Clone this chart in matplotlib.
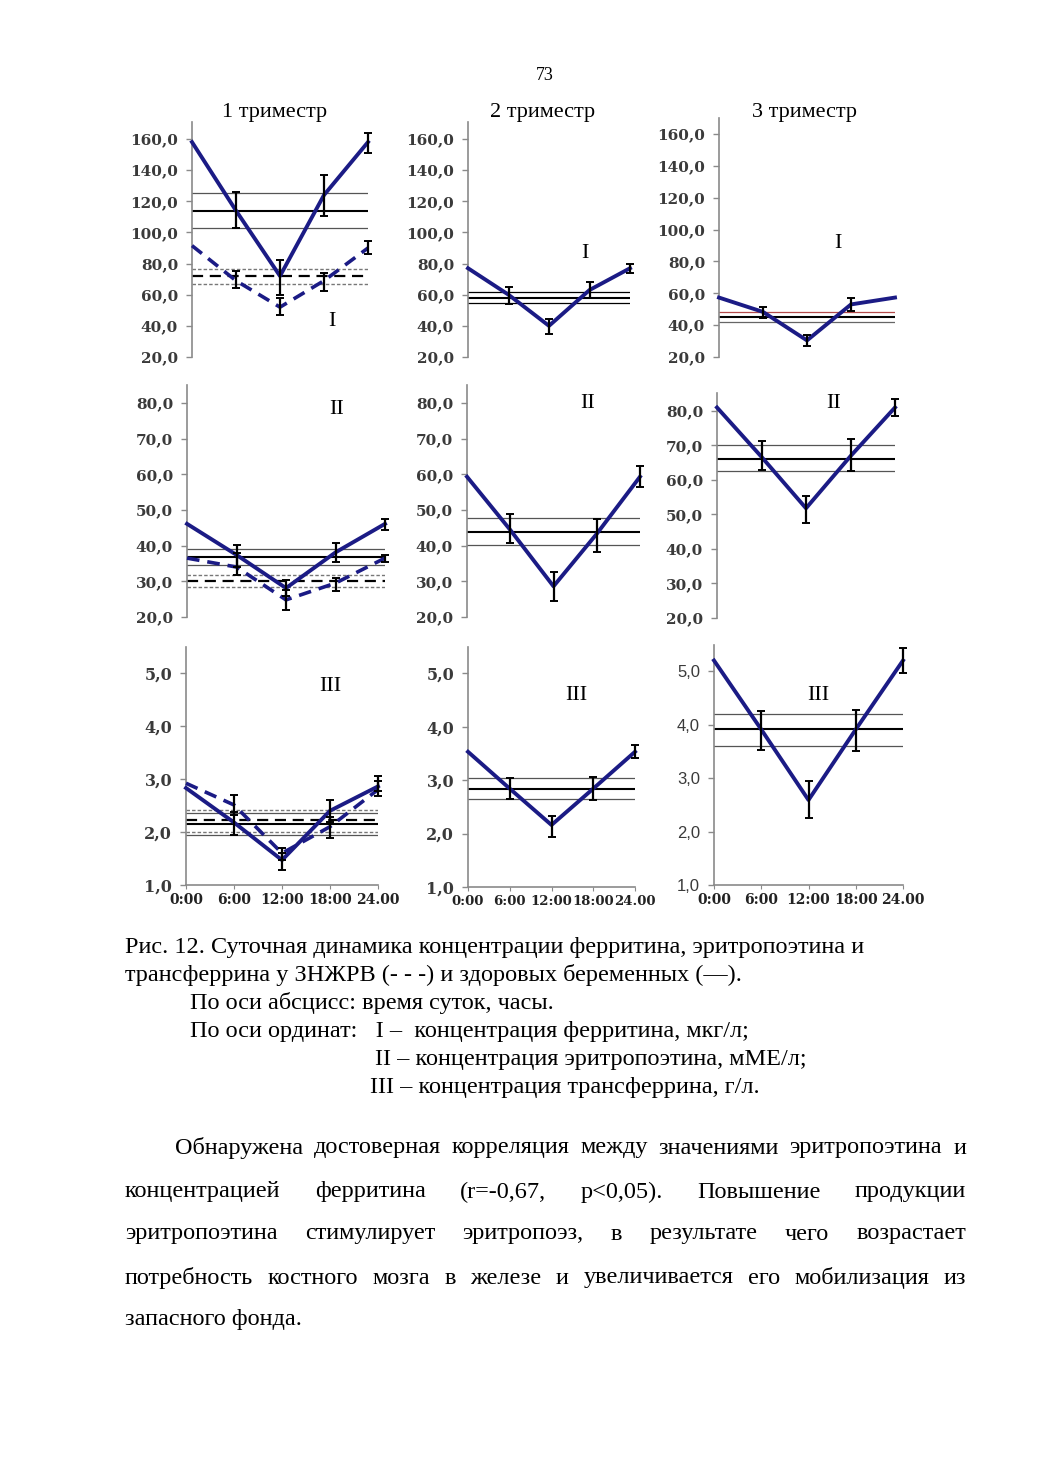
import numpy as np
import matplotlib
matplotlib.use('Agg')
import matplotlib.pyplot as plt

## Page size in pixels (figure is saved at 100 dpi)
W, H = 1040, 1471
nan = np.nan

hours = [0, 6, 12, 18, 24]
hour_labels = ['0:00', '6:00', '12:00', '18:00', '24.00']

## I - ferritin, mcg/l
ferr_t1 = [158, 114, 72, 124, 158]
ferr_t1_lo = [nan, 102.7, 60, 110.6, 151]
ferr_t1_hi = [nan, 126, 82, 137, 163.6]
ferr_t1_band = [103, 114, 125]
ferr_t1_d = [91.5, 69, 52, 69, 90]
ferr_t1_d_lo = [nan, 64, 47, 62.7, 86.2]
ferr_t1_d_hi = [nan, 75, 58, 73.7, 94.6]
ferr_t1_d_band = [66.6, 71.7, 76.8]

ferr_t2 = [77, 60, 40, 63, 77]
ferr_t2_lo = [nan, 54, 35, 57.6, 74]
ferr_t2_hi = [nan, 65, 44.7, 68.3, 79.7]
ferr_t2_band = [54.4, 58.2, 62]

ferr_t3 = [57.3, 48.3, 30.4, 53, 57.3]
ferr_t3_lo = [nan, 44.3, 26.7, 48.7, nan]
ferr_t3_hi = [nan, 51.5, 33.5, 57.2, nan]
ferr_t3_band = [42, 45.1, 48.3]

## II - erythropoietin, mIU/ml
epo_t1 = [46.1, 37.4, 28.1, 38.1, 46.1]
epo_t1_lo = [nan, 34.1, 25.8, 35.3, 44.4]
epo_t1_hi = [nan, 40.2, 30.4, 40.7, 47.4]
epo_t1_band = [34.6, 36.8, 39]
epo_t1_d = [36.5, 34, 24.8, 29.5, 36.5]
epo_t1_d_lo = [nan, 31.8, 22, 27.2, 35.3]
epo_t1_d_hi = [nan, 37.9, 27.6, 30.9, 37.4]
epo_t1_d_band = [28.5, 30.0, 31.9]

epo_t2 = [59.3, 44.4, 28.6, 43.3, 59.3]
epo_t2_lo = [nan, 40.7, 24.6, 38.3, 56.3]
epo_t2_hi = [nan, 48.9, 32.5, 47.4, 62.3]
epo_t2_band = [40.2, 43.9, 47.8]

epo_t3 = [81, 66.7, 51.8, 66.9, 81]
epo_t3_lo = [nan, 63, 47.6, 62.7, 78.5]
epo_t3_hi = [nan, 71.2, 55.4, 72, 83.6]
epo_t3_band = [62.7, 66.2, 70.1]

## III - transferrin, g/l
tf_t1 = [2.83, 2.18, 1.47, 2.40, 2.86]
tf_t1_lo = [nan, 1.94, 1.28, 2.18, 2.78]
tf_t1_hi = [nan, 2.37, 1.60, 2.61, 2.96]
tf_t1_band = [1.94, 2.15, 2.35]
tf_t1_d = [2.92, 2.51, 1.60, 2.10, 2.80]
tf_t1_d_lo = [nan, 2.32, 1.47, 1.88, 2.67]
tf_t1_d_hi = [nan, 2.70, 1.69, 2.29, 3.05]
tf_t1_d_band = [2.0, 2.23, 2.42]

tf_t2 = [3.53, 2.84, 2.16, 2.84, 3.53]
tf_t2_lo = [nan, 2.64, 1.94, 2.63, 3.41]
tf_t2_hi = [nan, 3.03, 2.32, 3.05, 3.66]
tf_t2_band = [2.64, 2.83, 3.04]

tf_t3 = [5.2, 3.91, 2.59, 3.91, 5.2]
tf_t3_lo = [nan, 3.53, 2.25, 3.5, 4.97]
tf_t3_hi = [nan, 4.25, 2.94, 4.28, 5.44]
tf_t3_band = [3.6, 3.91, 4.19]

trimesters = ['1 триместр', '2 триместр', '3 триместр']
ferr_ticks = [20, 40, 60, 80, 100, 120, 140, 160]
epo_ticks = [20, 30, 40, 50, 60, 70, 80]
tf_ticks = [1, 2, 3, 4, 5]

caption = ['Рис. 12. Суточная динамика концентрации ферритина, эритропоэтина и',
           'трансферрина у ЗНЖРВ (- - -) и здоровых беременных (—).',
           'По оси абсцисс: время суток, часы.',
           'По оси ординат:   I –  концентрация ферритина, мкг/л;',
           'II – концентрация эритропоэтина, мМЕ/л;',
           'III – концентрация трансферрина, г/л.']
body = ['Обнаружена достоверная корреляция между значениями эритропоэтина и',
        'концентрацией ферритина (r=-0,67, p<0,05). Повышение продукции',
        'эритропоэтина стимулирует эритропоэз, в результате чего возрастает',
        'потребность костного мозга в железе и увеличивается его мобилизация из',
        'запасного фонда.']

NAVY = '#1b1b85'

fig = plt.figure(figsize=(W / 100, H / 100), dpi=100)
fig.patch.set_facecolor('white')


def add_panel(x0, x1, ytop, ybot, ymin, ymax):
    """ axes placed by page pixels """
    ax = fig.add_axes([x0 / W, 1 - ybot / H, (x1 - x0) / W, (ybot - ytop) / H])
    ax.set_xlim(0, 24)
    ax.set_ylim(ymin, ymax)
    for s in ['top', 'right', 'bottom']:
        ax.spines[s].set_visible(False)
    ax.spines['left'].set_color('#8a8a8a')
    ax.spines['left'].set_linewidth(1.2)
    ax.tick_params(axis='y', length=4, width=1, color='#8a8a8a', pad=6)
    ax.tick_params(axis='x', bottom=False, labelbottom=False)
    ax.patch.set_alpha(0)
    return ax


def series(ax, vals, lo, hi, band, dashed=False, band_colors=None):
    vals = np.array(vals); lo = np.array(lo); hi = np.array(hi)
    if dashed:
        ax.axhline(band[0], color='#777777', lw=1, ls=(0, (2.5, 1.5)))
        ax.axhline(band[1], color='black', lw=1.6, ls=(0, (5, 3)))
        ax.axhline(band[2], color='#777777', lw=1, ls=(0, (2.5, 1.5)))
        ax.plot(hours, vals, color=NAVY, lw=2.6, ls=(0, (3.5, 2.2)), clip_on=False, zorder=3)
    else:
        c = band_colors or ['#555555', 'black', '#555555']
        ax.axhline(band[0], color=c[0], lw=0.9)
        ax.axhline(band[1], color=c[1], lw=1.5)
        ax.axhline(band[2], color=c[2], lw=0.9)
        ax.plot(hours, vals, color=NAVY, lw=2.8, clip_on=False, zorder=3)
    ax.errorbar(hours, vals, yerr=[vals - lo, hi - vals], fmt='none', ecolor='black',
                elinewidth=1.6, capsize=3, capthick=1.4, clip_on=False, zorder=4)


def ticks(ax, vals, fmt, fam='DejaVu Serif', weight='bold', size=11):
    ax.set_yticks(vals)
    ax.set_yticklabels([fmt(v).replace('.', ',') for v in vals],
                       family=fam, weight=weight, size=size, color='#3a3a3a')


def hour_axis(ax, size=10):
    ax.spines['bottom'].set_visible(True)
    ax.spines['bottom'].set_color('#8a8a8a')
    ax.spines['bottom'].set_linewidth(1.2)
    ax.set_xticks(hours)
    ax.tick_params(axis='x', bottom=True, labelbottom=True, length=3, color='#8a8a8a', pad=3)
    ax.set_xticklabels(hour_labels, family='DejaVu Serif', weight='bold', size=size, color='#222222')


f1 = lambda v: '%.1f' % v

## Row 1 - ferritin
ax = add_panel(192, 368, 122, 357, 20, 170.9)
series(ax, ferr_t1, ferr_t1_lo, ferr_t1_hi, ferr_t1_band)
series(ax, ferr_t1_d, ferr_t1_d_lo, ferr_t1_d_hi, ferr_t1_d_band, dashed=True)
ticks(ax, ferr_ticks, f1)
ax = add_panel(468, 630, 122, 357, 20, 170.9)
series(ax, ferr_t2, ferr_t2_lo, ferr_t2_hi, ferr_t2_band,
       band_colors=['black', 'black', 'black'])
ticks(ax, ferr_ticks, f1)
ax = add_panel(719, 895, 118, 357, 20, 170)
series(ax, ferr_t3, ferr_t3_lo, ferr_t3_hi, ferr_t3_band,
       band_colors=['#666666', 'black', '#b24a4a'])
ticks(ax, ferr_ticks, f1)

## Row 2 - erythropoietin
ax = add_panel(187, 385, 385, 617, 20, 85)
series(ax, epo_t1, epo_t1_lo, epo_t1_hi, epo_t1_band)
series(ax, epo_t1_d, epo_t1_d_lo, epo_t1_d_hi, epo_t1_d_band, dashed=True)
ticks(ax, epo_ticks, f1)
ax = add_panel(467, 640, 385, 617, 20, 85)
series(ax, epo_t2, epo_t2_lo, epo_t2_hi, epo_t2_band)
ticks(ax, epo_ticks, f1)
ax = add_panel(717, 895, 393, 618, 20, 85.2)
series(ax, epo_t3, epo_t3_lo, epo_t3_hi, epo_t3_band)
ticks(ax, epo_ticks, f1)

## Row 3 - transferrin
ax = add_panel(186, 378, 647, 885, 1, 5.49)
series(ax, tf_t1, tf_t1_lo, tf_t1_hi, tf_t1_band)
series(ax, tf_t1_d, tf_t1_d_lo, tf_t1_d_hi, tf_t1_d_band, dashed=True)
ticks(ax, tf_ticks, f1, size=11.5)
hour_axis(ax)
ax = add_panel(468, 635, 647, 887, 1, 5.49)
series(ax, tf_t2, tf_t2_lo, tf_t2_hi, tf_t2_band)
ticks(ax, tf_ticks, f1, size=11.5)
hour_axis(ax, size=9.5)
ax = add_panel(714, 903, 645, 885, 1, 5.49)
series(ax, tf_t3, tf_t3_lo, tf_t3_hi, tf_t3_band)
ticks(ax, tf_ticks, f1, fam='Liberation Sans', weight='normal', size=12)
hour_axis(ax)

## Text on the page
SERIF = 'Liberation Serif'


def ptext(x, y, s, size=16, **kw):
    return fig.text(x / W, 1 - y / H, s, family=SERIF, size=size, va='center', **kw)


ptext(545, 75, '73', size=13, ha='center')
for x, t in zip([275, 543, 805], trimesters):
    ptext(x, 112, t, size=16, ha='center')

for x, y, s in [(332, 322, 'I'), (585, 253, 'I'), (838, 243, 'I'),
                (337, 410, 'II'), (588, 403, 'II'), (834, 403, 'II'),
                (330, 687, 'III'), (576, 696, 'III'), (818, 696, 'III')]:
    ptext(x, y, s, size=16, ha='center')

cap_pos = [(125, 948), (125, 975), (190, 1003), (190, 1031), (375, 1059), (370, 1088)]
for (x, y), s in zip(cap_pos, caption):
    ptext(x, y, s, size=17.5, ha='left')

## Justified paragraph
renderer = fig.canvas.get_renderer()


def justify(line, x_left, x_right, y, size=17.5):
    words = line.split()
    texts = [ptext(0, y, w, size=size, ha='left') for w in words]
    widths = [t.get_window_extent(renderer).width for t in texts]
    gap = (x_right - x_left - sum(widths)) / (len(words) - 1)
    x = x_left
    for t, w in zip(texts, widths):
        t.set_x(x / W)
        x += w + gap


body_y = [1148, 1192, 1234, 1278, 1320]
for i, (line, y) in enumerate(zip(body, body_y)):
    if i == len(body) - 1:
        ptext(125, y, line, size=17.5, ha='left')
    else:
        justify(line, 175 if i == 0 else 125, 966, y)

fig.savefig('out.png', dpi=100, facecolor='white')
